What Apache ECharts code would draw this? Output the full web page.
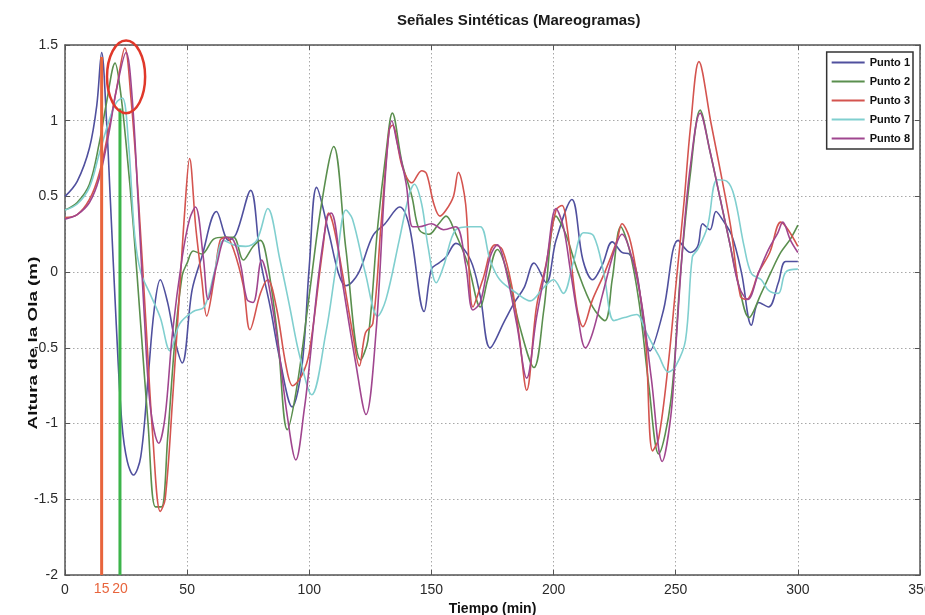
<!DOCTYPE html>
<html><head><meta charset="utf-8">
<script src="https://cdn.jsdelivr.net/npm/echarts@6/dist/echarts.min.js"></script>
<style>html,body{margin:0;padding:0;background:#fff}#c{width:925px;height:615px}</style>
</head><body><div id="c"></div>
<script>
const chartTitle = 'Señales Sintéticas (Mareogramas)';
const xAxisName = 'Tiempo (min)';
const yAxisName = 'Altura de la Ola (m)';
const seriesNames = ['Punto 1', 'Punto 2', 'Punto 3', 'Punto 7', 'Punto 8'];

const p1Time = [0,5,10,13,15,17,18.5,21,23.3,25.5,28,31,34,36.5,39,42,45,48,52,56,62,67,70,76,80,84,88,93,97,100,103,108,112,115,120,126,131,137,141,147,150,153,156,160,166,170,174,180,184,188,192,197,201,207.5,212,216,220,224,228,231,234,239.5,245,251,256,259,261,264,266.5,269,273,277,281,284,288,292,295,300];
const p1Value = [0.50,0.60,0.82,1.10,1.45,1.00,0.50,-0.35,-1.00,-1.25,-1.34,-1.22,-0.70,-0.25,-0.05,-0.20,-0.45,-0.60,-0.12,0.10,0.40,0.21,0.25,0.54,0.08,-0.23,-0.58,-0.89,-0.62,0.04,0.56,0.26,-0.01,-0.09,-0.01,0.24,0.32,0.43,0.30,-0.26,0.02,0.06,0.10,0.19,0.08,-0.16,-0.50,-0.32,-0.20,-0.10,0.06,-0.07,0.21,0.48,0.08,-0.05,0.05,0.20,0.13,0.12,0.00,-0.52,-0.25,0.21,0.13,0.17,0.32,0.28,0.40,0.35,0.24,-0.01,-0.35,-0.20,-0.23,-0.07,0.07,0.07];

const p2Time = [0,5,10,14,17,20.5,22.5,25,28,31,34,37,39.5,42,45,48,50,52.5,56,61,65,69,73,77,80,83,87,91,95,100,105,110,115,121,124,128,131.5,134,138,142,145,149,153,156,160,165,170,173,177,181,186,192,196,201,205,210,216,221,224,227.5,231,235,239,243,248,252,256,260,264,268,272,276,280,285,289,293,297,300];
const p2Value = [0.41,0.46,0.58,0.85,1.12,1.38,1.22,0.85,0.30,-0.35,-1.00,-1.55,-1.55,-1.10,-0.45,-0.02,0.06,0.14,0.12,0.22,0.23,0.23,0.08,0.17,0.21,0.05,-0.42,-1.04,-0.75,-0.15,0.45,0.83,0.15,-0.58,-0.45,0.30,0.80,1.05,0.72,0.50,0.28,0.25,0.32,0.37,0.25,0.05,-0.23,-0.05,0.15,0.00,-0.35,-0.63,-0.25,0.37,0.25,0.00,-0.23,-0.32,-0.05,0.30,0.15,-0.20,-0.75,-1.20,-0.85,0.00,0.65,1.07,0.80,0.50,0.20,-0.10,-0.30,-0.14,0.00,0.13,0.22,0.31];

const p3Time = [0,5,10,14,18,21,24.5,27,30,33,36,39,41,44,47,49,51,53.5,56,58,61,63.5,66,69,73,75.7,80,83,86.5,90.5,93.2,97,100,105.5,108,110,113.6,117.7,120.5,123,126,129.3,132.7,134,138,142,146,148,151,153.5,156,159,161,164,167,171,176,179,183,186,189,193,197,201,203.5,205.5,209.5,212,216,221,226,228,231,234,237.5,240.5,243,247,250,253.5,256,259.5,264.5,268.5,272.5,276.5,279,284,288.5,293,296,300];
const p3Value = [0.36,0.38,0.48,0.65,0.95,1.20,1.48,1.15,0.50,-0.30,-1.10,-1.58,-1.50,-0.85,-0.10,0.40,0.75,0.30,-0.05,-0.29,-0.05,0.21,0.23,0.15,-0.09,-0.38,-0.14,-0.05,-0.23,-0.62,-0.75,-0.68,-0.53,0.15,0.39,0.30,-0.01,-0.40,-0.62,-0.40,-0.34,0.30,0.94,0.97,0.70,0.59,0.67,0.65,0.45,0.37,0.41,0.50,0.66,0.45,-0.23,-0.05,0.18,0.15,-0.10,-0.43,-0.78,-0.23,0.06,0.41,0.44,0.30,-0.23,-0.36,-0.18,0.00,0.21,0.32,0.23,-0.01,-0.40,-1.18,-1.10,-0.60,-0.10,0.48,0.95,1.39,0.98,0.65,0.30,-0.16,-0.18,0.00,0.13,0.33,0.28,0.17];

const p7Time = [0,5,10,14,18,21,23.5,26,28.5,31,35,39,43,47,52.5,57,61,65,69,74,78.5,83,88,92,96,101,106.8,111,115,117.7,123,128,131.4,136.8,141,143,146,148.6,152,155,160,166,170,174,178,185,190.4,196,200,204,208,212.3,216.4,220.6,224.7,229,234,238,243,247,250,254,256.8,259,263,267,271,274,278,281,285,288,292,295,300];
const p7Value = [0.41,0.45,0.56,0.78,1.00,1.12,1.15,0.85,0.25,0.00,-0.15,-0.30,-0.52,-0.34,-0.26,-0.23,-0.01,0.21,0.18,0.17,0.21,0.42,0.08,-0.23,-0.55,-0.81,-0.40,0.04,0.41,0.35,-0.01,-0.29,-0.18,0.21,0.52,0.58,0.45,0.17,-0.07,0.04,0.28,0.30,0.30,0.08,-0.05,-0.14,-0.19,-0.10,-0.05,-0.14,0.06,0.26,0.24,-0.01,-0.32,-0.30,-0.28,-0.40,-0.55,-0.66,-0.62,-0.45,0.10,0.15,0.30,0.61,0.60,0.50,0.17,-0.01,-0.05,-0.12,-0.14,0.00,0.02];

const p8Time = [0,5,10,14,18,21,25,27.5,30,32.5,35,38.4,41,44,48,51,53.4,56.6,58.6,62,66,69,72,74.5,77,80.5,83,87,91,94.5,98,100,104,107.5,109,113.6,119,123.2,127.3,131.4,133.8,136,139.6,142.3,145,150,155,160,164,167,170,174,177,180,185,189,193,197,201,204,207,210,213,216,220,225,228,232,236,240,244.5,248,250,253,256,260,264,268,272,276,279.5,284,288,291.8,293.8,297,300];
const p8Value = [0.35,0.38,0.46,0.62,0.92,1.20,1.45,1.15,0.45,-0.30,-0.90,-1.13,-0.95,-0.40,0.10,0.35,0.43,0.10,-0.18,0.04,0.23,0.21,0.04,-0.18,-0.20,0.08,-0.05,-0.45,-0.95,-1.24,-0.90,-0.62,0.00,0.37,0.39,-0.07,-0.60,-0.94,-0.40,0.70,1.00,0.85,0.59,0.30,0.30,0.32,0.28,0.30,0.05,-0.25,-0.20,0.10,0.18,0.05,-0.35,-0.70,-0.30,0.05,0.42,0.30,0.00,-0.30,-0.50,-0.40,-0.15,0.15,0.25,0.10,-0.20,-0.70,-1.25,-0.95,-0.50,0.20,0.70,1.05,0.80,0.50,0.20,-0.10,-0.18,0.00,0.15,0.26,0.33,0.21,0.13];

// annotation values (vertical marker lines, their labels, circled peak)
const markerTimes = [15, 22.5];
const markerBottoms = [-2, -2];
const markerTops = [1.42, 1.08];
const markerLabels = ['15', '20'];
const circleCenter = [25, 1.29];
const circleRadius = [7.8, 0.24];

// styles
const seriesColors = ['#50509e', '#5a8f4e', '#d4544f', '#80cfcf', '#a0468f'];
const markerColors = ['#e8643c', '#3cb44a'];
const FONT = '"Liberation Sans", Arial, sans-serif';

const timesList = [p1Time, p2Time, p3Time, p7Time, p8Time];
const valuesList = [p1Value, p2Value, p3Value, p7Value, p8Value];
const pair = (ts, vs) => ts.map((t, i) => [t, vs[i]]);

const dataSeries = seriesNames.map((name, i) => ({
  name: name, type: 'line', data: pair(timesList[i], valuesList[i]),
  symbol: 'none', showSymbol: false, smooth: 0.35, z: 2,
  lineStyle: { width: 1.6, color: seriesColors[i] },
  itemStyle: { color: seriesColors[i] }
}));
const markerSeries = markerTimes.map((t, i) => ({
  name: 'marker' + i, type: 'line', silent: true, symbol: 'none', z: 3,
  data: [[t, markerBottoms[i]], [t, markerTops[i]]],
  lineStyle: { width: 3, color: markerColors[i] }, itemStyle: { color: markerColors[i] }
}));

const axisLineStyle = { color: '#555', width: 1.5 };
const splitStyle = { show: true, lineStyle: { color: '#a8a8a8', width: 1, type: [1.5, 2.5] } };

const chart = echarts.init(document.getElementById('c'));
chart.setOption({
  animation: false,
  backgroundColor: '#fff',
  title: { text: chartTitle, left: 392, top: 8,
    textStyle: { fontSize: 15, fontWeight: 'bold', color: '#1a1a1a', fontFamily: FONT } },
  legend: {
    data: seriesNames, orient: 'vertical', right: 12, top: 52,
    itemWidth: 33, itemHeight: 11, itemGap: 8, padding: [5, 3, 5, 4],
    borderColor: '#333', borderWidth: 1.5, backgroundColor: '#fff',
    itemStyle: { opacity: 0 },
    textStyle: { fontSize: 11, fontWeight: 'bold', color: '#111', fontFamily: FONT }
  },
  grid: { left: 65, right: 5, top: 45, bottom: 40, containLabel: false, outerBoundsMode: 'none' },
  xAxis: [{
    type: 'value', min: 0, max: 350, interval: 50, position: 'bottom',
    axisLine: { onZero: false, lineStyle: axisLineStyle },
    axisTick: { inside: true, length: 5, lineStyle: { color: '#555' } },
    axisLabel: { fontSize: 14, color: '#2a2a2a', margin: 8, fontFamily: FONT },
    splitLine: splitStyle,
    name: xAxisName, nameLocation: 'middle', nameGap: 15,
    nameTextStyle: { fontSize: 14, fontWeight: 'bold', color: '#111', fontFamily: FONT }
  }, {
    type: 'value', min: 0, max: 350, interval: 50, position: 'top',
    axisLine: { onZero: false, lineStyle: axisLineStyle },
    axisTick: { inside: true, length: 5, lineStyle: { color: '#555' } },
    axisLabel: { show: false }, splitLine: { show: false }
  }],
  yAxis: [{
    type: 'value', min: -2, max: 1.5, interval: 0.5, position: 'left',
    axisLine: { onZero: false, lineStyle: axisLineStyle },
    axisTick: { inside: true, length: 5, lineStyle: { color: '#555' } },
    axisLabel: { fontSize: 14, color: '#2a2a2a', margin: 7, fontFamily: FONT },
    splitLine: splitStyle
  }, {
    type: 'value', min: -2, max: 1.5, interval: 0.5, position: 'right',
    axisLine: { onZero: false, lineStyle: axisLineStyle },
    axisTick: { inside: true, length: 5, lineStyle: { color: '#555' } },
    axisLabel: { show: false }, splitLine: { show: false }
  }],
  series: dataSeries.concat(markerSeries)
});

const toPx = (v) => chart.convertToPixel({ gridIndex: 0 }, v);
const cc = toPx(circleCenter);
const ce = toPx([circleCenter[0] + circleRadius[0], circleCenter[1] + circleRadius[1]]);
const labelGraphics = markerTimes.map((t, i) => {
  const p = toPx([t, markerBottoms[i]]);
  return { type: 'text', x: p[0], y: p[1] + 7, z: 10,
    style: { text: markerLabels[i], fill: markerColors[0], font: '14px ' + FONT,
      align: 'center', verticalAlign: 'top', textAlign: 'center', textVerticalAlign: 'top' } };
});
chart.setOption({
  graphic: [
    { type: 'ellipse', z: 10, silent: true,
      shape: { cx: cc[0], cy: cc[1], rx: Math.abs(ce[0] - cc[0]), ry: Math.abs(ce[1] - cc[1]) },
      style: { fill: 'none', stroke: '#e0382a', lineWidth: 2.5 } },
    { type: 'text', x: 33, y: 343, rotation: Math.PI / 2, scaleX: 1.45, z: 10,
      style: { text: yAxisName, fill: '#111', font: 'bold 13px ' + FONT,
        align: 'center', verticalAlign: 'middle', textAlign: 'center', textVerticalAlign: 'middle' } }
  ].concat(labelGraphics)
});
</script>
</body></html>
